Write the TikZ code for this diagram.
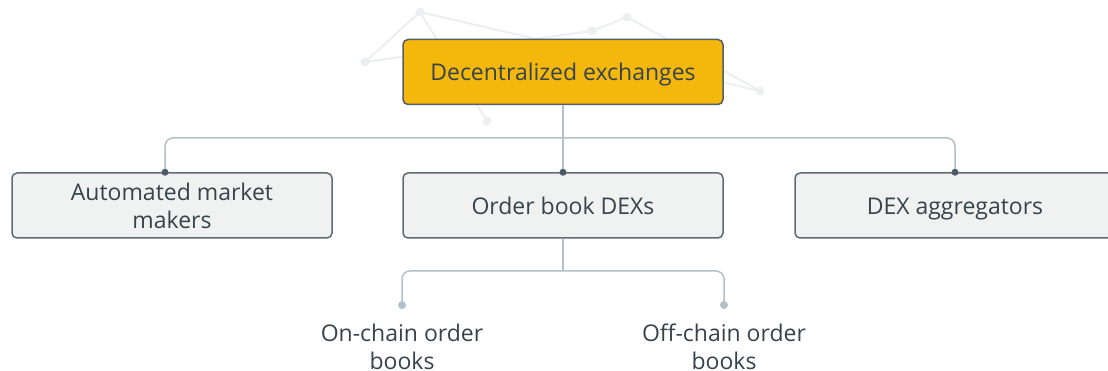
\documentclass[tikz,border=0pt]{standalone}
\usepackage{fontspec}
\setmainfont{Open Sans}
\usetikzlibrary{positioning}

\definecolor{gold}{HTML}{F4B70C}
\definecolor{goldline}{HTML}{535F66}
\definecolor{boxfill}{HTML}{F0F2F2}
\definecolor{boxline}{HTML}{5D6B73}
\definecolor{wire}{HTML}{B3C0C7}
\definecolor{hub}{HTML}{4A5B66}
\definecolor{ink}{HTML}{37434A}
\definecolor{net}{HTML}{ECEEEF}

\begin{document}
\begin{tikzpicture}[
      x = 1pt,
      y = -1pt,
      every node/.style = {font=\fontsize{23}{28}\selectfont, text=ink, align=center},
      cat/.style = {draw=boxline, fill=boxfill, line width=1.5pt, rounded corners=5pt,
                    minimum width=320pt, minimum height=65pt, inner sep=0pt},
      oneline/.style = {text height=22pt, text depth=4pt},
      root/.style = {cat, oneline, draw=goldline, fill=gold},
      leaf/.style = {inner sep=0pt},
      link/.style = {draw=wire, line width=1.5pt, rounded corners=8pt},
  ]

  \useasboundingbox (0,0) rectangle (1108,371);

  % faint network behind the root
  \foreach \n/\px/\py in {a/420/12, b/365/62, c/592/31, d/627/17, e/760/91, f/487/121}
    \coordinate (\n) at (\px,\py);
  \foreach \u/\v in {a/b, a/e, a/f, b/c, c/d, d/e}
    \draw [net, line width=2pt] (\u) -- (\v);
  \foreach \n in {a,b,c,d,e,f}
    \fill [net] (\n) circle (4.5);

  \node[root] (dex) at (563,72) {Decentralized exchanges};
  \node[cat] (amm) at (172,205.5) {Automated market\\makers};
  \node[cat, oneline] (obd) at (563,205.5) {Order book DEXs};
  \node[cat, oneline] (agg) at (955,205.5) {DEX aggregators};

  \coordinate (bus) at (563,138);
  \coordinate (ammpin) at ([xshift=-7pt]amm.north);
  \draw [link] (dex.south) -- (bus);
  \draw [link] (bus) -| (ammpin);
  \draw [link] (bus) -- (obd.north);
  \draw [link] (bus) -| (agg.north);
  \foreach \t in {ammpin, obd.north, agg.north}
    \fill [hub] (\t) circle (3.5);

  \coordinate (split) at (563,271);
  \coordinate (onpin) at (402,305);
  \coordinate (offpin) at (724,305);
  \draw [link] (obd.south) -- (split);
  \draw [link] (split) -| (onpin);
  \draw [link] (split) -| (offpin);
  \fill [wire] (onpin) circle (4);
  \fill [wire] (offpin) circle (4);

  \node[leaf] (onchain) at (402,347) {On-chain order\\books};
  \node[leaf] (offchain) at (724,347) {Off-chain order\\books};

  \end{tikzpicture}
\end{document}
